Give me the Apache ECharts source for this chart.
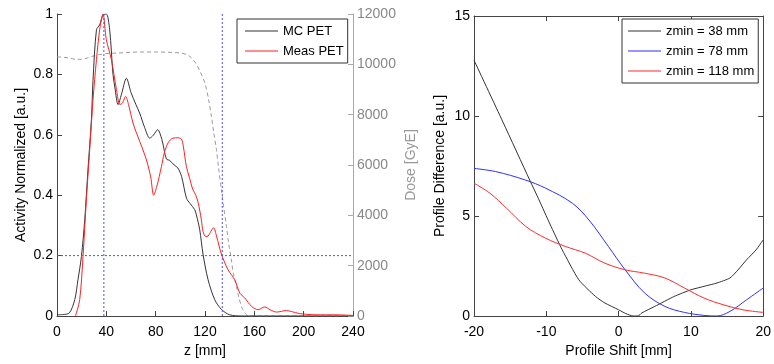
<!DOCTYPE html>
<html>
<head>
<meta charset="utf-8">
<script src="https://cdn.jsdelivr.net/npm/echarts@6/dist/echarts.min.js"></script>
<style>
  html, body { margin: 0; padding: 0; background: #fff; }
  #chart { width: 774px; height: 364px; }
</style>
</head>
<body>
<div id="chart"></div>
<script>
// ---- Left panel: normalized PET activity vs depth, with dose on a second axis ----
const zTicks = [0, 40, 80, 120, 160, 200, 240];

const mcZ = [0, 5, 10, 14.4, 17, 19.8, 22.5, 25.1, 27.9, 29.2, 32, 34.6, 37.3, 40, 42.7, 45.4, 47, 49.5, 52.2, 56.3, 60, 64, 67, 71, 75.2, 78, 81.6, 85, 88.7, 91.4, 95, 98, 101, 105, 108, 111.7, 113, 115.7, 118.4, 122.5, 127.9, 133.3, 140, 150, 160, 240];
const mcVal = [0.004, 0.005, 0.01, 0.054, 0.12, 0.197, 0.319, 0.484, 0.65, 0.78, 0.948, 0.964, 0.997, 1.0, 0.948, 0.8, 0.755, 0.70, 0.733, 0.787, 0.74, 0.70, 0.672, 0.625, 0.589, 0.598, 0.617, 0.585, 0.52, 0.515, 0.50, 0.49, 0.462, 0.39, 0.372, 0.352, 0.335, 0.286, 0.205, 0.12, 0.054, 0.022, 0.004, 0, 0, 0];

const measZ = [15, 18.4, 21.1, 23.8, 26.5, 29.2, 32, 34.6, 37.3, 40, 44.1, 48.2, 51, 53, 55.7, 58, 61.6, 65, 69.7, 73, 76, 78.4, 81, 84.7, 87, 90, 94, 98, 100.9, 102.5, 104.9, 107.6, 110, 112.5, 114.5, 117, 118.4, 120.6, 122.5, 127, 129.3, 133.3, 138.7, 144.1, 148.2, 152.2, 157.7, 163, 168.4, 173, 178, 186, 190, 196.8, 210, 225, 240];
const measVal = [0, 0.054, 0.197, 0.385, 0.55, 0.716, 0.849, 0.948, 1.0, 0.915, 0.849, 0.75, 0.70, 0.705, 0.727, 0.70, 0.639, 0.60, 0.55, 0.51, 0.46, 0.40, 0.43, 0.495, 0.54, 0.573, 0.589, 0.59, 0.586, 0.56, 0.495, 0.455, 0.42, 0.40, 0.375, 0.32, 0.28, 0.263, 0.265, 0.292, 0.265, 0.205, 0.153, 0.12, 0.076, 0.06, 0.032, 0.021, 0.03, 0.02, 0.013, 0.018, 0.015, 0.008, 0.004, 0.004, 0.002];

const doseZ = [0, 5, 10, 15, 20, 25, 30, 35, 40, 50, 60, 70, 80, 90, 100, 105, 108, 112, 116, 120, 123, 125.2, 127, 129.3, 131, 133.3, 135, 137.4, 139, 141.4, 143, 145.5, 147.5, 149.6, 151.5, 153.6, 156, 160, 240];
const doseVal = [10300, 10280, 10250, 10200, 10200, 10260, 10340, 10390, 10430, 10450, 10480, 10490, 10490, 10480, 10450, 10390, 10300, 10080, 9720, 9240, 8580, 7930, 7320, 6610, 5880, 5020, 4380, 3560, 2940, 2230, 1680, 1180, 720, 380, 180, 50, 0, 0, 0];

// reference lines: window limits in z and the 20% activity level
const markerZ = [38, 134];
const markerLevel = [0.2];

// ---- Right panel: profile difference vs applied shift ----
const shiftTicks = [-20, -10, 0, 10, 20];

const shift38 = [-20, -16, -12.3, -11, -9.5, -7.8, -5.5, -3.2, -1.9, 0, 1, 2, 2.7, 3.2, 5, 7.7, 10, 12, 13.6, 15.4, 16.5, 17.7, 19, 20];
const diff38 = [12.79, 9.7, 6.8, 5.8, 4.6, 3.31, 1.81, 0.98, 0.65, 0.31, 0.12, 0, 0, 0.15, 0.48, 0.98, 1.31, 1.5, 1.65, 1.9, 2.3, 2.81, 3.3, 3.81];

const shift78 = [-20, -17, -12.9, -10.1, -6.4, -4.1, -1.4, 0.9, 3.6, 6.4, 9.1, 11.8, 13.6, 15.4, 17.7, 20];
const diff78 = [7.38, 7.22, 6.8, 6.39, 5.64, 4.8, 3.47, 2.31, 1.15, 0.48, 0.18, 0.03, 0, 0.23, 0.81, 1.4];

const shift118 = [-20, -17.8, -15.5, -12.8, -10.1, -7.3, -4.6, -1.9, 0.9, 3.6, 6.4, 9.1, 11.8, 14.5, 17.2, 20];
const diff118 = [6.64, 6.14, 5.39, 4.47, 3.89, 3.47, 3.14, 2.64, 2.31, 2.14, 1.9, 1.4, 0.9, 0.56, 0.31, 0.18];

const zip = (xs, ys) => xs.map((x, i) => [x, ys[i]]);

const FONT = '"Liberation Sans", Arial, Helvetica, sans-serif';
const DARK = '#444';
const GREY = '#999';
const MARK = '#4f4fff';

const tickIn = { show: true, inside: true, length: 5, lineStyle: { color: DARK } };
const plainNum = v => String(v);

const zMin = zTicks[0], zMax = zTicks[zTicks.length - 1];

// dashed blue guide lines drawn as plain two-point line series
const guideSeries = markerZ.map(z => [[z, 0], [z, 1]])
  .concat(markerLevel.map(a => [[zMin, a], [zMax, a]]))
  .map(pts => ({
    type: 'line', xAxisIndex: 0, yAxisIndex: 0, data: pts, symbol: 'none', silent: true,
    lineStyle: { color: MARK, width: 1, type: [2, 2] }, itemStyle: { color: MARK }, z: 5
  }));

const chart = echarts.init(document.getElementById('chart'), null, { renderer: 'canvas' });

chart.setOption({
  backgroundColor: '#fff',
  animation: false,
  textStyle: { fontFamily: FONT },
  grid: [
    { left: 57, top: 14, width: 296, height: 302 },
    { left: 474, top: 16, width: 293, height: 300 }
  ],
  legend: [
    {
      data: ['MC PET', 'Meas PET'],
      orient: 'vertical', left: 237, top: 19,
      icon: 'rect', itemWidth: 33, itemHeight: 1, itemGap: 6,
      padding: [5, 4, 5, 8],
      borderColor: '#333', borderWidth: 1, backgroundColor: '#fff',
      textStyle: { fontSize: 13, lineHeight: 14, color: '#000', fontFamily: FONT }
    },
    {
      data: ['zmin = 38 mm', 'zmin = 78 mm', 'zmin = 118 mm'],
      orient: 'vertical', left: 622, top: 19,
      icon: 'rect', itemWidth: 33, itemHeight: 1, itemGap: 6,
      padding: [5, 4, 5, 6],
      borderColor: '#333', borderWidth: 1, backgroundColor: '#fff',
      textStyle: { fontSize: 13, lineHeight: 14, color: '#000', fontFamily: FONT }
    }
  ],
  xAxis: [
    {
      gridIndex: 0, type: 'value', min: zMin, max: zMax, interval: 40,
      name: 'z [mm]', nameLocation: 'middle', nameGap: 28,
      nameTextStyle: { fontSize: 14, color: '#000', fontFamily: FONT },
      axisLine: { show: true, onZero: false, lineStyle: { color: DARK } },
      axisTick: tickIn,
      axisLabel: { fontSize: 14, color: '#000', margin: 9, fontFamily: FONT },
      splitLine: { show: false }
    },
    {
      gridIndex: 1, type: 'value', min: shiftTicks[0], max: shiftTicks[shiftTicks.length - 1], interval: 10,
      name: 'Profile Shift [mm]', nameLocation: 'middle', nameGap: 27,
      nameTextStyle: { fontSize: 14, color: '#000', fontFamily: FONT },
      axisLine: { show: true, onZero: false, lineStyle: { color: DARK } },
      axisTick: tickIn,
      axisLabel: { fontSize: 14, color: '#000', margin: 9, fontFamily: FONT },
      splitLine: { show: false }
    },
    {
      gridIndex: 1, type: 'value', position: 'top', min: -20, max: 20, interval: 10,
      axisLine: { show: true, onZero: false, lineStyle: { color: DARK } },
      axisTick: tickIn, axisLabel: { show: false }, splitLine: { show: false }
    }
  ],
  yAxis: [
    {
      gridIndex: 0, type: 'value', min: 0, max: 1, interval: 0.2,
      name: 'Activity Normalized [a.u.]', nameLocation: 'middle', nameGap: 29,
      nameTextStyle: { fontSize: 14, color: '#000', fontFamily: FONT },
      axisLine: { show: true, onZero: false, lineStyle: { color: DARK } },
      axisTick: tickIn,
      axisLabel: { fontSize: 14, color: '#000', margin: 4, fontFamily: FONT },
      splitLine: { show: false }
    },
    {
      gridIndex: 0, type: 'value', position: 'right', min: 0, max: 12000, interval: 2000,
      name: 'Dose [GyE]', nameLocation: 'middle', nameGap: 51,
      nameTextStyle: { fontSize: 14, color: GREY, fontFamily: FONT },
      axisLine: { show: true, onZero: false, lineStyle: { color: '#aaa' } },
      axisTick: { show: true, inside: true, length: 5, lineStyle: { color: '#aaa' } },
      axisLabel: { fontSize: 14, color: '#888', margin: 4, fontFamily: FONT, formatter: plainNum },
      splitLine: { show: false }
    },
    {
      gridIndex: 1, type: 'value', min: 0, max: 15, interval: 5,
      name: 'Profile Difference [a.u.]', nameLocation: 'middle', nameGap: 27,
      nameTextStyle: { fontSize: 14, color: '#000', fontFamily: FONT },
      axisLine: { show: true, onZero: false, lineStyle: { color: DARK } },
      axisTick: tickIn,
      axisLabel: { fontSize: 14, color: '#000', margin: 4, fontFamily: FONT },
      splitLine: { show: false }
    },
    {
      gridIndex: 1, type: 'value', position: 'right', min: 0, max: 15, interval: 5,
      axisLine: { show: true, onZero: false, lineStyle: { color: DARK } },
      axisTick: tickIn, axisLabel: { show: false }, splitLine: { show: false }
    }
  ],
  series: [
    {
      name: 'Dose', type: 'line', xAxisIndex: 0, yAxisIndex: 1,
      data: zip(doseZ, doseVal), symbol: 'none', smooth: 0.3, silent: true,
      lineStyle: { color: '#9a9a9a', width: 1, type: [4, 3] }, itemStyle: { color: '#9a9a9a' },
      z: 1
    },
    {
      name: 'MC PET', type: 'line', xAxisIndex: 0, yAxisIndex: 0,
      data: zip(mcZ, mcVal), symbol: 'none', smooth: 0.3,
      lineStyle: { color: '#333', width: 1 }, itemStyle: { color: '#333' },
      z: 3
    },
    {
      name: 'Meas PET', type: 'line', xAxisIndex: 0, yAxisIndex: 0,
      data: zip(measZ, measVal), symbol: 'none', smooth: 0.3,
      lineStyle: { color: '#ff2020', width: 1 }, itemStyle: { color: '#ff2020' },
      z: 4
    },
    ...guideSeries,
    {
      name: 'zmin = 38 mm', type: 'line', xAxisIndex: 1, yAxisIndex: 2,
      data: zip(shift38, diff38), symbol: 'none', smooth: 0.2,
      lineStyle: { color: '#333', width: 1 }, itemStyle: { color: '#333' }
    },
    {
      name: 'zmin = 78 mm', type: 'line', xAxisIndex: 1, yAxisIndex: 2,
      data: zip(shift78, diff78), symbol: 'none', smooth: 0.35,
      lineStyle: { color: '#2f2fff', width: 1 }, itemStyle: { color: '#2f2fff' }
    },
    {
      name: 'zmin = 118 mm', type: 'line', xAxisIndex: 1, yAxisIndex: 2,
      data: zip(shift118, diff118), symbol: 'none', smooth: 0.35,
      lineStyle: { color: '#ff2a2a', width: 1 }, itemStyle: { color: '#ff2a2a' }
    }
  ]
});
</script>
</body>
</html>
